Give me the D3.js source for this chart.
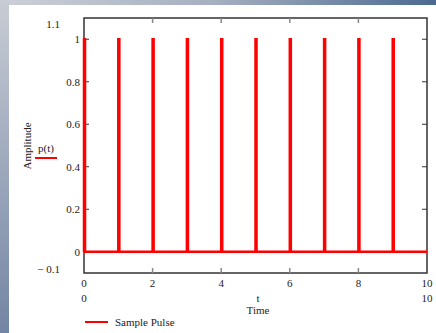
<!DOCTYPE html>
<html><head><meta charset="utf-8">
<script src="https://cdn.jsdelivr.net/npm/d3@7"></script>
<style>body{margin:0;overflow:hidden}svg{display:block}text{font-family:"Liberation Serif","Times New Roman",serif;fill:#222}</style>
</head><body>
<script>
const pulseStarts = [0,1,2,3,4,5,6,7,8,9];
const pulseWidth = 0.03;
const pulseAmp = 1;
const xTicks = [0,2,4,6,8,10];
const yTicks = [0,0.2,0.4,0.6,0.8,1];
const xDomain = [0,10];
const yDomain = [-0.1,1.1];

const W=436,H=333,FS=11;
const svg=d3.select("body").append("svg").attr("width",W).attr("height",H);
const defs=svg.append("defs");
const g1=defs.append("linearGradient").attr("id","topg").attr("x1","0").attr("x2","1").attr("y1","0").attr("y2","0");
g1.append("stop").attr("offset","0").attr("stop-color","#cdd0d8");
g1.append("stop").attr("offset","0.5").attr("stop-color","#a4afc0");
g1.append("stop").attr("offset","1").attr("stop-color","#4b6990");
const g2=defs.append("linearGradient").attr("id","leftg").attr("x1","0").attr("x2","0").attr("y1","0").attr("y2","1");
g2.append("stop").attr("offset","0").attr("stop-color","#c8ccd4");
g2.append("stop").attr("offset","1").attr("stop-color","#7385a4");
svg.append("rect").attr("width",W).attr("height",5).attr("fill","url(#topg)");
svg.append("rect").attr("y",0).attr("width",9).attr("height",H).attr("fill","url(#leftg)");
svg.append("rect").attr("x",9).attr("y",5).attr("width",W-9).attr("height",H-5).attr("fill","#fff");

const L=84,R=427,T=18,B=273;
const x=d3.scaleLinear().domain(xDomain).range([L,R]);
const y=d3.scaleLinear().domain(yDomain).range([B,T]);

const pts=[[0,0]];
pulseStarts.forEach(s=>{pts.push([s,0],[s,pulseAmp],[s+pulseWidth,pulseAmp],[s+pulseWidth,0]);});
pts.push([10,0]);
svg.append("rect").attr("x",L).attr("y",T).attr("width",R-L).attr("height",B-T).attr("fill","none").attr("stroke","#333").attr("stroke-width",1.5);

const tickLen=5;
xTicks.slice(1,-1).forEach(v=>{
  svg.append("line").attr("x1",x(v)).attr("x2",x(v)).attr("y1",B).attr("y2",B-tickLen).attr("stroke","#888").attr("stroke-width",1.5);
  svg.append("line").attr("x1",x(v)).attr("x2",x(v)).attr("y1",T).attr("y2",T+tickLen).attr("stroke","#888").attr("stroke-width",1.5);
});
yTicks.forEach(v=>{
  svg.append("line").attr("x1",L).attr("x2",L+tickLen).attr("y1",y(v)).attr("y2",y(v)).attr("stroke","#333").attr("stroke-width",1);
  svg.append("line").attr("x1",R).attr("x2",R-tickLen).attr("y1",y(v)).attr("y2",y(v)).attr("stroke","#333").attr("stroke-width",1);
});

const line=d3.line().x(d=>x(d[0])).y(d=>y(d[1]));
svg.append("path").attr("d",line(pts)).attr("fill","none").attr("stroke","#ff0000").attr("stroke-width",2.5).attr("stroke-linejoin","miter");

yTicks.forEach(v=>{
  svg.append("text").attr("x",80).attr("y",y(v)+4).attr("text-anchor","end").attr("font-size",FS).text(String(v));
});
svg.append("text").attr("x",60).attr("y",28).attr("text-anchor","end").attr("font-size",FS).text("1.1");
svg.append("text").attr("x",60).attr("y",273).attr("text-anchor","end").attr("font-size",FS).text("\u2212 0.1");
xTicks.forEach(v=>{
  svg.append("text").attr("x",x(v)).attr("y",287).attr("text-anchor","middle").attr("font-size",FS).text(String(v));
});
svg.append("text").attr("x",x(0)).attr("y",302).attr("text-anchor","middle").attr("font-size",FS).text("0");
svg.append("text").attr("x",x(10)).attr("y",302).attr("text-anchor","middle").attr("font-size",FS).text("10");
svg.append("text").attr("x",258).attr("y",302).attr("text-anchor","middle").attr("font-size",FS).text("t");
svg.append("text").attr("x",258).attr("y",314).attr("text-anchor","middle").attr("font-size",FS).text("Time");
svg.append("text").attr("transform","translate(31,146) rotate(-90)").attr("text-anchor","middle").attr("font-size",FS).text("Amplitude");
svg.append("text").attr("x",46).attr("y",152).attr("text-anchor","middle").attr("font-size",FS).text("p(t)");
svg.append("line").attr("x1",35).attr("x2",57).attr("y1",158).attr("y2",158).attr("stroke","#ff0000").attr("stroke-width",2);
svg.append("line").attr("x1",85).attr("x2",108).attr("y1",322).attr("y2",322).attr("stroke","#ff0000").attr("stroke-width",2);
svg.append("text").attr("x",115).attr("y",326).attr("font-size",FS).text("Sample Pulse");
</script>
</body></html>
